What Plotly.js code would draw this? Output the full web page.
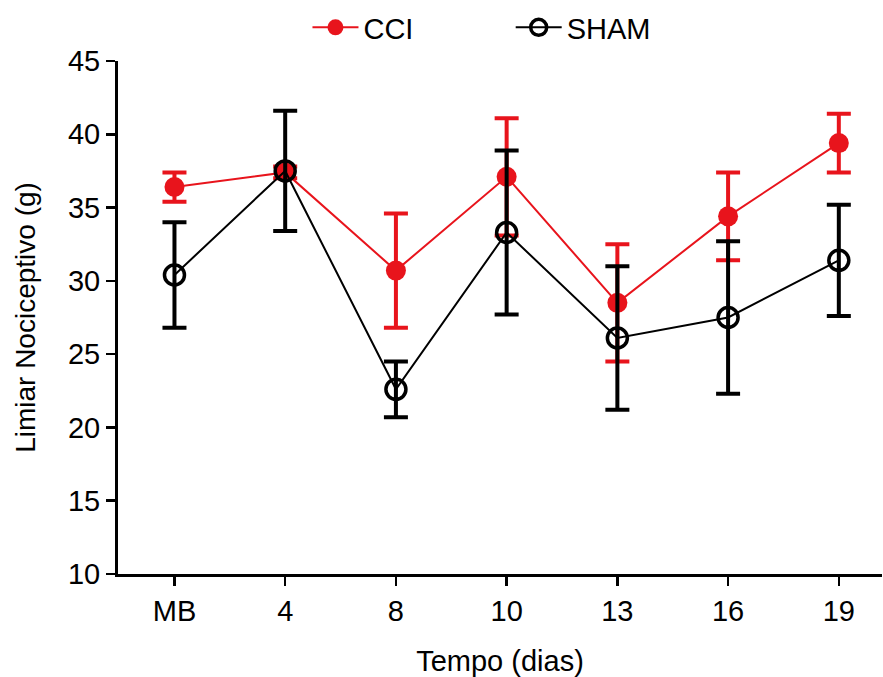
<!DOCTYPE html>
<html>
<head>
<meta charset="utf-8">
<script src="https://cdn.plot.ly/plotly-3.0.1.min.js"></script>
<style>html,body{margin:0;padding:0;background:#fff;}#chart{width:883px;height:677px;}</style>
</head>
<body>
<div id="chart"></div>
<script>
const categories = ["MB", "4", "8", "10", "13", "16", "19"];
const cciMean = [36.4, 37.4, 30.7, 37.1, 28.5, 34.4, 39.4];
const cciErr  = [1.0, 0.4, 3.9, 4.0, 4.0, 3.0, 2.0];
const shamMean = [30.4, 37.5, 22.6, 33.3, 26.1, 27.5, 31.4];
const shamErr  = [3.6, 4.1, 1.9, 5.6, 4.9, 5.2, 3.8];

const RED = "#e8141c";
const FONT = "Liberation Sans, Arial, sans-serif";

const cci = {
  x: categories, y: cciMean, name: "CCI", type: "scatter", mode: "lines+markers",
  legend: "legend",
  line: {color: RED, width: 2},
  marker: {color: RED, size: 20, symbol: "circle"},
  error_y: {type: "data", array: cciErr, visible: true, color: RED, thickness: 4, width: 12}
};
const sham = {
  x: categories, y: shamMean, name: "SHAM", type: "scatter", mode: "lines+markers",
  legend: "legend2",
  line: {color: "#000", width: 2},
  marker: {color: "#000", size: 20, symbol: "circle-open", line: {color: "#000", width: 3.5}},
  error_y: {type: "data", array: shamErr, visible: true, color: "#000", thickness: 4, width: 12}
};

const legFont = {family: FONT, size: 29, color: "#000"};
const layout = {
  width: 883, height: 677,
  margin: {l: 118, r: 1, t: 61, b: 103, autoexpand: false},
  paper_bgcolor: "#fff", plot_bgcolor: "#fff",
  font: {family: FONT, color: "#000", size: 29},
  showlegend: true,
  legend:  {orientation: "h", x: 0.248, xanchor: "left", y: 1.115, yanchor: "top", font: legFont, bgcolor: "rgba(0,0,0,0)", itemwidth: 46},
  legend2: {orientation: "h", x: 0.514, xanchor: "left", y: 1.115, yanchor: "top", font: legFont, bgcolor: "rgba(0,0,0,0)", itemwidth: 46},
  xaxis: {
    type: "category", range: [-0.51, 6.39],
    showline: true, linecolor: "#000", linewidth: 3,
    ticks: "outside", ticklen: 9, tickwidth: 2.5, tickcolor: "#000",
    showgrid: false, zeroline: false,
    tickfont: {family: FONT, size: 29, color: "#000"},
    title: {text: "Tempo (dias)", font: {family: FONT, size: 29, color: "#000"}, standoff: 26}
  },
  yaxis: {
    range: [10, 45], dtick: 5, tick0: 10,
    showline: true, linecolor: "#000", linewidth: 3,
    ticks: "outside", ticklen: 9, tickwidth: 2.5, tickcolor: "#000",
    showgrid: false, zeroline: false,
    tickfont: {family: FONT, size: 29, color: "#000"},
    title: {text: "Limiar Nociceptivo (g)", font: {family: FONT, size: 28, color: "#000"}, standoff: 25}
  }
};

Plotly.newPlot("chart", [cci, sham], layout, {displayModeBar: false, staticPlot: true});
</script>
</body>
</html>
